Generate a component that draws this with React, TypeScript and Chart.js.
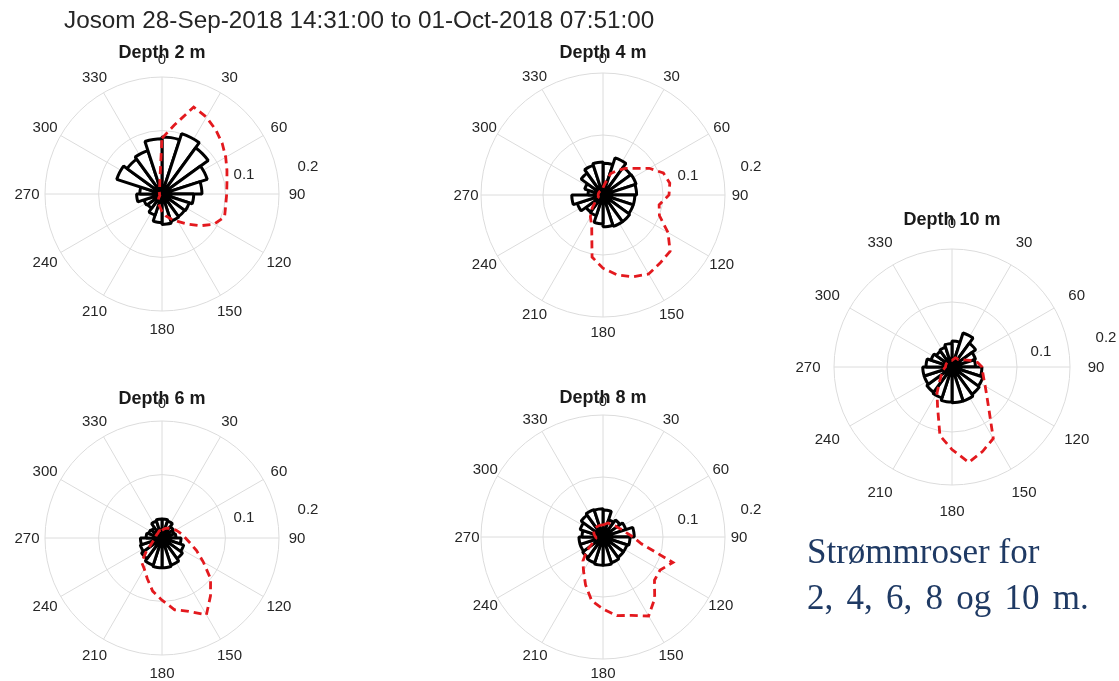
import React, { useEffect, useRef } from "react";
import { Chart, registerables } from "chart.js";

Chart.register(...registerables);

// ---------- data ----------
const MAIN_TITLE = "Josom 28-Sep-2018 14:31:00 to 01-Oct-2018 07:51:00";
const NOTE_LINES = ["Strømmroser for", "2, 4, 6, 8 og 10 m."];

// direction categories for the red (dashed) curve, 10° steps
const DIR_LABELS = [
  "0", "10", "20", "30", "40", "50", "60", "70", "80", "90", "100", "110",
  "120", "130", "140", "150", "160", "170", "180", "190", "200", "210", "220", "230",
  "240", "250", "260", "270", "280", "290", "300", "310", "320", "330", "340", "350",
];
// angle tick labels (every 30°)
const ANGLE_TICKS = ["0", "30", "60", "90", "120", "150", "180", "210", "240", "270", "300", "330"];
const ANGLE_TICK_VALUES = [0, 30, 60, 90, 120, 150, 180, 210, 240, 270, 300, 330];
// radial tick labels
const R_TICK_LABELS = ["0.1", "0.2"];
const R_GRID_STEP = 0.1;

// rose histogram: 20 bins of 18°, starting at 0° (N), clockwise
const rose2 = [0.090, 0.100, 0.090, 0.075, 0.063, 0.050, 0.045, 0.044, 0.045, 0.048,
  0.045, 0.035, 0.028, 0.030, 0.040, 0.035, 0.075, 0.068, 0.072, 0.087];
const rose4 = [0.053, 0.065, 0.057, 0.058, 0.056, 0.053, 0.053, 0.055, 0.055, 0.053,
  0.048, 0.036, 0.035, 0.045, 0.052, 0.025, 0.032, 0.045, 0.052, 0.055];
const rose6 = [0.030, 0.028, 0.022, 0.020, 0.022, 0.030, 0.036, 0.040, 0.045, 0.047,
  0.047, 0.045, 0.040, 0.036, 0.034, 0.025, 0.022, 0.020, 0.028, 0.030];
const rose8 = [0.045, 0.030, 0.035, 0.040, 0.052, 0.045, 0.042, 0.042, 0.045, 0.047,
  0.047, 0.045, 0.042, 0.040, 0.040, 0.035, 0.040, 0.045, 0.048, 0.047];
const rose10 = [0.040, 0.055, 0.045, 0.038, 0.036, 0.046, 0.050, 0.052, 0.055, 0.055,
  0.054, 0.050, 0.048, 0.045, 0.045, 0.040, 0.034, 0.030, 0.032, 0.036];

// red dashed curve per direction (10° steps)
const speed2 = [0.088, 0.110, 0.146, 0.140, 0.132, 0.124, 0.116, 0.109, 0.104, 0.102, 0.102, 0.105,
  0.095, 0.078, 0.062, 0.050, 0.042, 0.035, 0.028, 0.020, 0.016, 0.012, 0.008, 0.005,
  0.004, 0.004, 0.004, 0.004, 0.004, 0.004, 0.005, 0.006, 0.007, 0.009, 0.011, 0.020];
const speed4 = [0.012, 0.020, 0.038, 0.047, 0.058, 0.069, 0.089, 0.107, 0.113, 0.110, 0.095, 0.100,
  0.125, 0.146, 0.148, 0.152, 0.145, 0.135, 0.122, 0.105, 0.055, 0.042, 0.028, 0.016,
  0.010, 0.008, 0.008, 0.008, 0.008, 0.008, 0.008, 0.008, 0.008, 0.008, 0.009, 0.010];
const speed6 = [0.012, 0.014, 0.016, 0.018, 0.020, 0.022, 0.025, 0.028, 0.032, 0.037, 0.045, 0.058,
  0.075, 0.100, 0.119, 0.140, 0.123, 0.115, 0.098, 0.085, 0.068, 0.056, 0.050, 0.032,
  0.020, 0.015, 0.012, 0.010, 0.010, 0.010, 0.010, 0.010, 0.010, 0.011, 0.012, 0.012];
const speed8 = [0.020, 0.022, 0.025, 0.025, 0.025, 0.028, 0.030, 0.035, 0.040, 0.050, 0.065, 0.124,
  0.110, 0.112, 0.134, 0.152, 0.139, 0.133, 0.120, 0.108, 0.085, 0.065, 0.052, 0.035,
  0.020, 0.015, 0.012, 0.012, 0.014, 0.016, 0.018, 0.020, 0.020, 0.020, 0.020, 0.020];
const speed10 = [0.010, 0.012, 0.015, 0.015, 0.015, 0.018, 0.022, 0.030, 0.040, 0.046, 0.048, 0.052,
  0.059, 0.070, 0.089, 0.127, 0.138, 0.149, 0.127, 0.107, 0.065, 0.046, 0.030, 0.022,
  0.018, 0.015, 0.012, 0.010, 0.010, 0.010, 0.010, 0.010, 0.010, 0.010, 0.010, 0.010];

// ---------- layout / style ----------
const GRID = "#dcdcdc";
const TEXT = "#262626";
const RED = "#e3191e";
const FONT = '"Liberation Sans", Arial, Helvetica, sans-serif';
const HALF = 170;

type PlotCfg = {
  title: string;
  rose: number[];
  line: number[];
  cx: number;
  cy: number;
  R: number;
  rmax: number;
  labelDist: number;
  titleDy: number;
  rtick: number[][];
};

const PLOTS: PlotCfg[] = [
  { title: "Depth 2 m", rose: rose2, line: speed2, cx: 162, cy: 194, R: 117, rmax: 0.1845, labelDist: 135, titleDy: 141, rtick: [[82, -19], [146, -27]] },
  { title: "Depth 4 m", rose: rose4, line: speed4, cx: 603, cy: 195, R: 122, rmax: 0.2033, labelDist: 137, titleDy: 142, rtick: [[85, -19], [148, -28]] },
  { title: "Depth 10 m", rose: rose10, line: speed10, cx: 952, cy: 367, R: 118, rmax: 0.1815, labelDist: 144, titleDy: 147, rtick: [[89, -15], [154, -29]] },
  { title: "Depth 6 m", rose: rose6, line: speed6, cx: 162, cy: 538, R: 117, rmax: 0.1845, labelDist: 135, titleDy: 139, rtick: [[82, -20], [146, -28]] },
  { title: "Depth 8 m", rose: rose8, line: speed8, cx: 603, cy: 537, R: 122, rmax: 0.2033, labelDist: 136, titleDy: 139, rtick: [[85, -17], [148, -27]] },
];

const labelPlugin = {
  id: "roseLabels",
  afterDraw(chart: any, _args: any, opts: any) {
    const s = chart.scales.r;
    const ctx = chart.ctx;
    const cx = s.xCenter;
    const cy = s.yCenter;
    ctx.save();
    ctx.fillStyle = TEXT;
    ctx.textAlign = "center";
    ctx.textBaseline = "middle";
    ctx.font = `15px ${FONT}`;
    ANGLE_TICKS.forEach((lab, i) => {
      const a = (ANGLE_TICK_VALUES[i] * Math.PI) / 180;
      ctx.fillText(lab, cx + opts.labelDist * Math.sin(a), cy - opts.labelDist * Math.cos(a) + 1);
    });
    R_TICK_LABELS.forEach((lab, i) => {
      ctx.fillText(lab, cx + opts.rtick[i][0], cy + opts.rtick[i][1]);
    });
    ctx.font = `bold 18px ${FONT}`;
    ctx.fillStyle = "#1a1a1a";
    ctx.fillText(opts.title, cx, cy - opts.titleDy);
    ctx.restore();
  },
};

function RosePlot({ cfg }: { cfg: PlotCfg }) {
  const ref = useRef<HTMLCanvasElement | null>(null);
  useEffect(() => {
    if (!ref.current) return;
    const pad = HALF - cfg.R;
    const rmax = cfg.rmax;
    const chart = new Chart(ref.current, {
      type: "radar",
      data: {
        labels: DIR_LABELS,
        datasets: [
          {
            type: "radar",
            label: "speed",
            data: cfg.line,
            borderColor: RED,
            borderWidth: 2.8,
            borderDash: [8, 5],
            pointRadius: 0,
            fill: false,
            tension: 0,
          } as any,
          {
            type: "polarArea",
            label: "rose",
            data: cfg.rose,
            backgroundColor: "#ffffff",
            borderColor: "#000000",
            borderWidth: 3,
          } as any,
        ],
      },
      options: {
        responsive: false,
        maintainAspectRatio: false,
        animation: false,
        events: [],
        layout: { padding: pad },
        plugins: {
          legend: { display: false },
          tooltip: { enabled: false },
          title: { display: false },
          roseLabels: { labelDist: cfg.labelDist, title: cfg.title, titleDy: cfg.titleDy, rtick: cfg.rtick },
        } as any,
        scales: {
          r: {
            type: "radialLinear",
            min: 0,
            max: rmax,
            startAngle: 0,
            beginAtZero: true,
            grid: { circular: true, color: GRID, lineWidth: 1 },
            angleLines: {
              display: true,
              color: GRID,
              lineWidth: (c: any) => (c.index % 3 === 0 ? 1 : 0),
            },
            pointLabels: { display: false },
            ticks: { display: false },
            afterBuildTicks: (sc: any) => {
              sc.ticks = [{ value: 0 }, { value: R_GRID_STEP }, { value: rmax }];
            },
          } as any,
        },
      },
      plugins: [labelPlugin],
    } as any);
    return () => chart.destroy();
  }, [cfg]);
  return (
    <canvas
      ref={ref}
      width={HALF * 2}
      height={HALF * 2}
      style={{ position: "absolute", left: cfg.cx - HALF, top: cfg.cy - HALF, width: HALF * 2, height: HALF * 2 }}
    />
  );
}

export default function App() {
  return (
    <div
      style={{
        position: "absolute",
        left: 0,
        top: 0,
        width: 1119,
        height: 681,
        background: "#ffffff",
        overflow: "hidden",
      }}
    >
      {PLOTS.map((p) => (
        <RosePlot key={p.title} cfg={p} />
      ))}
      <div
        style={{
          position: "absolute",
          left: 64,
          top: 5,
          fontFamily: FONT,
          fontSize: 24.3,
          color: TEXT,
          whiteSpace: "nowrap",
          lineHeight: "30px",
        }}
      >
        {MAIN_TITLE}
      </div>
      <div
        style={{
          position: "absolute",
          left: 807,
          top: 529,
          fontFamily: '"Liberation Serif", "Times New Roman", serif',
          fontSize: 35,
          lineHeight: "46px",
          color: "#1f3a64",
          whiteSpace: "nowrap",
        }}
      >
        <div>{NOTE_LINES[0]}</div>
        <div style={{ wordSpacing: "4.5px" }}>{NOTE_LINES[1]}</div>
      </div>
    </div>
  );
}
